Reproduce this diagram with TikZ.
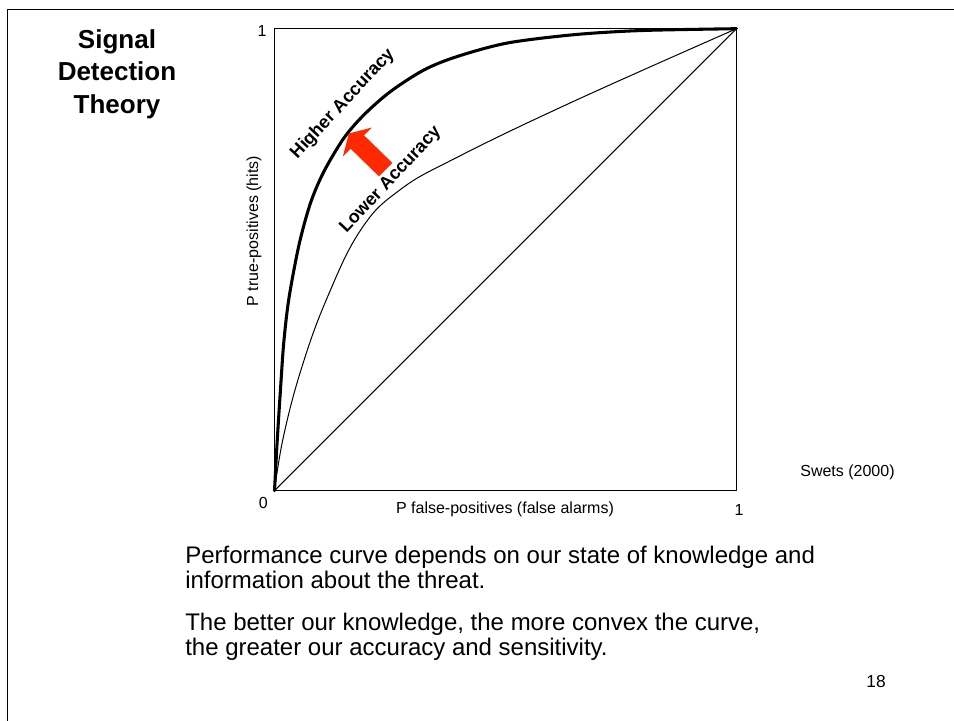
\documentclass[tikz,border=0pt]{standalone}
\usepackage{fontspec}
\setmainfont{Liberation Sans}
\usetikzlibrary{calc}
\definecolor{arrowred}{RGB}{255,41,0}
\tikzset{
	slideframe/.style={draw=black, line width=1pt},
	plotbox/.style={draw=black, line width=0.9pt},
	thincurve/.style={draw=black, line width=0.75pt},
	thickcurve/.style={draw=black, line width=2.3pt, line cap=round},
	ticklabel/.style={font=\fontsize{12}{14}\selectfont, inner sep=0pt},
	axislabel/.style={font=\fontsize{12}{14}\selectfont, inner sep=0pt},
	curvelabel/.style={
		font=\bfseries\fontsize{13.5}{15}\selectfont, 
		rotate=47, 
		inner sep=0pt},
	titletext/.style={
		font=\bfseries\fontsize{19.5}{24.4}\selectfont, 
		align=center, 
		inner sep=0pt},
	bodyline/.style={font=\fontsize{18}{18}\selectfont, anchor=base west, inner sep=0pt},
}
\begin{document}
\begin{tikzpicture}[x=0.75pt, y=-0.75pt]
	\useasboundingbox (0,0) rectangle (954,721);
	\draw[slideframe] (954,9.7) -- (7.8,9.7) -- (7.8,721);
	% title
	\node[titletext] (title) at (117,74) {Signal\\Detection\\Theory};
	% plot area
	\coordinate (o) at (274.5,490.7);
	\coordinate (tr) at (736.5,28.7);
	\draw[plotbox] (o) rectangle (tr);
	\draw[thincurve] (o) -- (tr);
	\begin{scope}[shift={(274.5,490.7)}, x=346.5pt, y=346.5pt]
		\draw[thincurve] plot[smooth, tension=0.7] coordinates {(0,0) (0.02,0.12) (0.06,0.27) (0.115,0.42) (0.187,0.565) (0.27,0.65) (0.396,0.722) (0.648,0.843) (1,1)};
	\end{scope}
	\fill[arrowred] (392.4,163) -- (364,135.3) -- (371.7,127.6) -- (348.8,133.5) -- (342.9,156.4) -- (350.6,148.7) -- (379,176.4) -- cycle;
	\begin{scope}[shift={(274.5,490.7)}, x=346.5pt, y=346.5pt]
		\draw[thickcurve] plot[smooth, tension=0.5] coordinates {(0,0) (0.006,0.11) (0.013,0.22) (0.020,0.32) (0.031,0.415) (0.053,0.532) (0.078,0.623) (0.107,0.691) (0.150,0.763) (0.194,0.814) (0.251,0.864) (0.324,0.911) (0.396,0.940) (0.504,0.969) (0.648,0.987) (0.793,0.996) (1,1)};
	\end{scope}
	% labels
	\node[ticklabel] (ytop) at (262,31) {1};
	\node[ticklabel] (zero) at (263.3,502.8) {0};
	\node[ticklabel] (xright) at (739,509.5) {1};
	\node[axislabel, anchor=base] (xlabel) at (505,513.3) {P false-positives (false alarms)};
	\node[axislabel, rotate=90] (ylabel) at (254,231) {P true-positives (hits)};
	\node[curvelabel] (higher) at (342.8,104) {Higher Accuracy};
	\node[curvelabel] (lower) at (391,180) {Lower Accuracy};
	\node[axislabel] (source) at (847.5,472.5) {Swets (2000)};
	% text below
	\node[bodyline] (perfa) at (185,563.8) {Performance curve depends on our state of knowledge and};
	\node[bodyline] (perfb) at (185,588.8) {information about the threat.};
	\node[bodyline] (bettera) at (185,630.8) {The better our knowledge, the more convex the curve,};
	\node[bodyline] (betterb) at (185,655.8) {the greater our accuracy and sensitivity.};
	\node[font=\fontsize{13}{15}\selectfont, inner sep=0pt] (page) at (876,682) {18};
\end{tikzpicture}
\end{document}
